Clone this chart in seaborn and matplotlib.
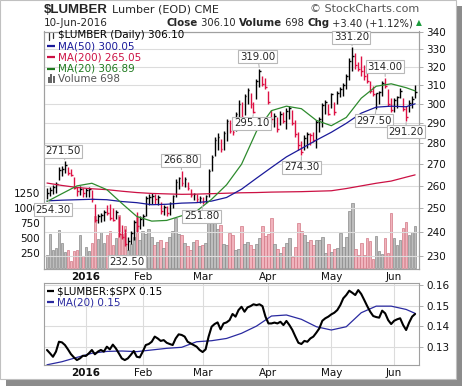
import numpy as np
import pandas as pd
import matplotlib
matplotlib.use("Agg")
import matplotlib.pyplot as plt
from matplotlib import font_manager
from matplotlib.patches import Rectangle
from matplotlib.ticker import FormatStrFormatter, NullLocator, FixedLocator
import seaborn as sns

# ---- data ----
start, end = "2015-12-14", "2016-06-10"
holidays = ["2015-12-25", "2016-01-01", "2016-01-18", "2016-02-15", "2016-03-25", "2016-05-30"]

lows = [254.3, 255.5, 256.5, 257, 262.5, 264.5, 266, 265, 264.5, 258.5, 255.5, 256, 255,
        255, 255, 253, 244, 243.5, 244, 244.5, 247, 245, 244.5, 245.5, 238, 237, 234, 232.5,
        235, 236.5, 240, 241, 242.5, 246.5, 251.5, 252, 252, 251.5, 247.5, 247, 246.5, 247,
        250, 255, 258.5, 260, 259.5, 258, 255, 253.5, 253, 252.5, 251.8, 252.5, 255, 267,
        274, 277, 276, 277, 281, 285, 284, 286, 291.5, 292, 294, 300, 298, 295.1, 302.5, 309,
        309.5, 308, 300, 290, 288, 285.5, 289, 290, 287, 292, 289, 283, 277, 274.3, 277, 278,
        279, 280.5, 278, 285.5, 288, 295, 294, 298, 294, 300, 303.5, 304, 308, 313, 318, 319,
        317.5, 315, 313, 311, 306, 304, 297.5, 300, 304, 308.5, 299, 296, 296, 298, 303,
        296.5, 291.2, 296, 298, 303]
highs = [259, 259.5, 260.5, 262, 268.5, 269, 271.5, 268.5, 268, 264, 259.5, 260, 259,
         259, 259.5, 258, 252, 247.5, 248, 249.5, 251.5, 252, 250, 249.5, 246.5, 243, 241, 238,
         240.5, 245, 248.5, 246.5, 247.5, 255.5, 256.5, 257, 256.5, 256, 253, 251.5, 251, 253,
         256, 263, 264, 266.8, 264, 262, 258.5, 257, 256.5, 255.5, 255, 256, 268, 274.5,
         283, 285, 282, 286, 292, 291.5, 289, 296, 302, 301, 305, 308.5, 306, 301, 313.5, 319,
         315, 314, 307, 297, 295.5, 293, 296.5, 296, 298, 299, 297, 291.5, 285.5, 281, 284, 285.5,
         285, 285.5, 291.5, 293, 300.5, 302, 300, 306, 301, 307, 309, 311, 316, 325, 331.2, 328,
         322.5, 326, 321, 318, 312, 309.5, 306, 307, 312, 314, 308, 303, 303, 304, 308.5,
         303, 299, 302, 304, 310]
closes = [257, 258, 259.5, 261, 267.5, 268, 269.5, 266, 265, 259, 257.5, 258.5, 257,
          258, 258.5, 254, 245, 246.5, 247, 248.5, 248, 246, 245, 248.5, 239, 238, 235, 236,
          239.5, 244, 242.5, 245.5, 246.5, 254.5, 255, 255.5, 254, 255, 249, 250.5, 248, 252.5,
          255.5, 262, 263.5, 261.5, 263, 259, 256, 256.5, 254, 254.5, 253, 255.5, 267, 273.5,
          281.5, 283, 277.5, 285, 291, 286, 285.5, 295, 300, 293, 304, 307.5, 300, 296, 312.5, 317.5,
          310.5, 309, 301, 292, 293.5, 287, 294.5, 291, 296.5, 298, 290, 284.5, 279, 276, 282.5, 284.5,
          284, 281.5, 290.5, 292, 299.5, 301, 295, 305, 296, 306, 308, 310, 315, 323.5, 326, 321,
          319, 318, 315, 312, 307, 305, 305.5, 306.5, 311, 309.5, 300, 297, 302, 303.5, 307,
          297.5, 293, 300.5, 302.7, 306.1]
volume = [220, 560, 300, 330, 630, 410, 260, 300, 110, 280, 300, 540, 200,
          340, 280, 420, 870, 480, 600, 420, 540, 620, 380, 500, 880, 560, 700, 300, 400, 520,
          850, 460, 620,
          560, 640, 520, 380, 430, 470, 330, 430, 520, 610, 830, 560, 540, 420, 360, 300, 430,
          470, 360, 380,
          420, 760, 900, 830, 650, 720, 400, 380, 580, 545, 300, 310, 695, 395, 430, 380, 320,
          395, 495, 690, 528,
          560, 828, 395, 310, 250, 350, 420, 490, 183, 350, 745, 617, 545, 433, 470, 380, 460,
          470, 510, 250, 395,
          265, 320, 330, 578, 355, 510, 950, 1083, 320, 212, 420, 212, 495, 440, 145, 528, 280,
          225, 495, 250, 910,
          495, 380, 460, 660, 767, 545, 600, 698]

# moving averages, sampled every 5 trading days (plus the last day)
ma_days = [0, 5, 10, 15, 20, 25, 30, 35, 40, 45, 50, 55, 60, 65, 70, 75, 80, 85, 90, 95,
           100, 105, 110, 115, 120, 123]
ma50 = [253.3, 253.6, 253.8, 254, 253.8, 253, 252.5, 251.6, 251.8, 252.3, 252.5, 253.2,
        254.8, 258.5, 263.5, 268.5, 273.5, 277.5, 281.6, 285.5, 290, 295.2, 298.3, 298.8,
        298.5, 300.05]
ma200 = [261.3, 260.2, 259.3, 258.7, 258.3, 257.6, 257, 256.6, 256.4, 256.2, 256.3, 256.5,
         256.7, 256.9, 257, 257.2, 257.3, 257.4, 257.6, 257.8, 258.8, 260, 261.2, 262.2, 264,
         265.05]
ma20 = [253, 256.5, 260, 261.2, 258.3, 252.2, 246.5, 244.5, 244.8, 246.8, 248.8, 254,
        260.5, 270, 286, 296.5, 298.8, 297.5, 291.5, 288.8, 293, 303, 309.4, 310.7, 308.6,
        306.89]

ratio = [0.1284, 0.1268, 0.1251, 0.1276, 0.1324, 0.1321, 0.1308, 0.1287, 0.1264, 0.1248,
         0.1235, 0.1243, 0.1256, 0.1255, 0.1268, 0.1284, 0.1263, 0.1276, 0.1284, 0.1276,
         0.1300, 0.1287, 0.1310, 0.1292, 0.1268, 0.1243, 0.1235, 0.1243, 0.1260, 0.1279,
         0.1251, 0.1248, 0.1276, 0.1308, 0.1313, 0.1324, 0.1349, 0.1340, 0.1328, 0.1332,
         0.1319, 0.1313, 0.1308, 0.1340, 0.1360, 0.1357, 0.1349, 0.1324, 0.1316, 0.1308,
         0.1300, 0.1284, 0.1274, 0.1287, 0.1349, 0.1397, 0.1410, 0.1418, 0.1384, 0.1413,
         0.1418, 0.1429, 0.1459, 0.1446, 0.1478, 0.1494, 0.1470, 0.1491, 0.1497, 0.1506,
         0.1502, 0.1506, 0.1497, 0.1446, 0.1413, 0.1413, 0.1417, 0.1413, 0.1421, 0.1405,
         0.1425, 0.1405, 0.1381, 0.1349, 0.1319, 0.1313, 0.1328, 0.1324, 0.1340, 0.1349,
         0.1368, 0.1389, 0.1426, 0.1438, 0.1446, 0.1457, 0.1465, 0.1478, 0.1502, 0.1535,
         0.1551, 0.1572, 0.1562, 0.1551, 0.1575, 0.1556, 0.1527, 0.1497, 0.1470, 0.1449,
         0.1444, 0.1441, 0.1475, 0.1462, 0.1429, 0.1410, 0.1426, 0.1433, 0.1438, 0.1405,
         0.1381, 0.1417, 0.1446, 0.1459]
ratio_ma = [0.1212, 0.1227, 0.1248, 0.1268, 0.1277, 0.1279, 0.1276, 0.1284, 0.1292, 0.1297,
            0.1324, 0.1329, 0.1340, 0.1365, 0.1400, 0.1449, 0.1454, 0.1433, 0.1397, 0.1381,
            0.1397, 0.1465, 0.1497, 0.1497, 0.1481, 0.1462]

# labelled highs and lows
peak_days = [6, 45, 71, 102, 113]
peak_vals = [271.5, 266.8, 319.0, 331.2, 314.0]
trough_days = [0, 27, 52, 69, 85, 110, 120]
trough_vals = [254.3, 232.5, 251.8, 295.1, 274.3, 297.5, 291.2]

price_ticks = [230, 240, 250, 260, 270, 280, 290, 300, 310, 320, 330, 340]
vol_ticks = [250, 500, 750, 1000, 1250]
ratio_ticks = [0.13, 0.14, 0.15, 0.16]
month_labels = ["2016", "Feb", "Mar", "Apr", "May", "Jun"]

# ---- setup ----
days = pd.bdate_range(start, end)
days = days[~days.isin(pd.to_datetime(holidays))]
x = np.arange(len(closes))
months = pd.Series(days.month)
month_pos = list(np.where(months.ne(months.shift()))[0][1:])

df = pd.DataFrame({"day": x, "low": lows, "high": highs, "close": closes, "volume": volume,
                   "ratio": ratio})
df["up"] = df["close"].diff().fillna(0) >= 0
ma = pd.DataFrame({"day": ma_days, "ma50": ma50, "ma200": ma200, "ma20": ma20,
                   "rma": ratio_ma})

sns.set_style("white")
plt.rcParams["font.family"] = ["DejaVu Sans"]

installed = {f.name for f in font_manager.fontManager.ttflist}
title_font = "Liberation Sans Narrow" if "Liberation Sans Narrow" in installed else "Liberation Sans"
title_size = 12 if title_font == "Liberation Sans Narrow" else 9.5

W, H = 464, 387
fig = plt.figure(figsize=(W / 100, H / 100), dpi=100)

# frame with shadow
fig.patches.append(Rectangle((6 / W, 1 - 386 / H), 456 / W, 380 / H, transform=fig.transFigure,
                             fc="#8c8c8c", ec="none", zorder=-3))
fig.patches.append(Rectangle((0, 1 - 379 / H), 456 / W, 379 / H, transform=fig.transFigure,
                             fc="white", ec="#c0c0c0", lw=0.8, zorder=-2))

RED = "#dd1144"
GRID = "#dcdcdc"
SPINE = "#a0a0a0"

L, R = 44 / W, 419 / W
ax_vol = fig.add_axes([L, 1 - 269 / H, R - L, (269 - 31.5) / H])
ax = ax_vol.twinx()
ax2 = fig.add_axes([L, 1 - 365 / H, R - L, (365 - 283.3) / H])

# volume
fills = np.where(df["up"], "#bdbdbd", "#f1b3bd")
edges = np.where(df["up"], "#8a8a8a", "#d27885")
ax_vol.bar(df["day"], df["volume"], width=0.85, color=fills, edgecolor=edges, lw=0.5)
ax_vol.set_ylim(-20, 3940)
ax_vol.set_yticks(vol_ticks)
ax_vol.tick_params(axis="y", labelsize=7.5, length=0, pad=3, colors="#111111")

# price bars
cols = np.where(df["up"], "black", RED)
ax.vlines(df["day"], df["low"], df["high"], colors=cols, lw=1.0)
ax.hlines(df["close"], df["day"], df["day"] + 0.6, colors=cols, lw=1.0)

sns.lineplot(data=ma, x="day", y="ma200", ax=ax, color="#cc1144", lw=0.9)
sns.lineplot(data=ma, x="day", y="ma50", ax=ax, color="#1a1a9a", lw=0.9)
sns.lineplot(data=ma, x="day", y="ma20", ax=ax, color="#2e8b2e", lw=0.9)

ax.set_yscale("log")
ax.set_ylim(224.9, 340.4)
ax.yaxis.set_major_locator(FixedLocator(price_ticks))
ax.yaxis.set_minor_locator(NullLocator())
ax.yaxis.set_major_formatter(FormatStrFormatter("%d"))
ax.tick_params(axis="y", labelsize=7.5, length=3, width=0.6, color=SPINE, pad=2,
               labelcolor="#111111")
ax.set_ylabel("")
ax.grid(True, axis="both", color=GRID, lw=0.8)

for a in (ax_vol, ax):
    a.set_xlim(-1, 124.3)
    a.set_xlabel("")
    for s in a.spines.values():
        s.set_color(SPINE)
        s.set_linewidth(0.8)
ax_vol.set_xticks(month_pos, month_labels)
ax_vol.xaxis.set_minor_locator(FixedLocator(x))
ax_vol.tick_params(axis="x", which="major", labelsize=7.5, length=0, pad=2, colors="#111111")
ax_vol.tick_params(axis="x", which="minor", length=2, width=0.5, color="#b0b0b0")
ax_vol.get_xticklabels()[0].set_fontweight("bold")
ax.set_xticks(month_pos)

# high / low callouts
box = dict(boxstyle="square,pad=0.15", fc="white", ec="#b8b8b8", lw=0.8)
arrow = dict(arrowstyle="-", color="#b8b8b8", lw=0.8, shrinkA=0, shrinkB=1)
peak_off = [(-2, 10), (-1, 11), (-2, 12), (-1, 10), (0, 11)]
for d, v, off in zip(peak_days, peak_vals, peak_off):
    ax.annotate(f"{v:.2f}", xy=(d, v), xytext=off, textcoords="offset pixels", ha="center",
                va="center", fontsize=7.3, bbox=box, arrowprops=arrow, zorder=6)
trough_off = [(6, -11), (-1, -12), (-1, -12), (-2, -10), (0, -12), (-2, -12), (0, -11)]
for d, v, off in zip(trough_days, trough_vals, trough_off):
    ax.annotate(f"{v:.2f}", xy=(d, v), xytext=off, textcoords="offset pixels", ha="center",
                va="center", fontsize=7.3, bbox=box, arrowprops=arrow, zorder=6,
                annotation_clip=False)

# legend in main panel
leg = [("$LUMBER (Daily) 306.10", "black", 0.984),
       ("MA(50) 300.05", "#1a1a9a", 0.937),
       ("MA(200) 265.05", "#cc1144", 0.892),
       ("MA(20) 306.89", "#1f7a1f", 0.844),
       ("Volume 698", "#555555", 0.799)]
for k, (s, c, yy) in enumerate(leg):
    ax.text(0.037, yy, s, transform=ax.transAxes, color=c, fontsize=7.5, va="center",
            ha="left", parse_math=False, zorder=7)
    if 1 <= k <= 3:
        ax.plot([0.008, 0.030], [yy, yy], transform=ax.transAxes, color=c, lw=1.6,
                solid_capstyle="butt")
# small bar glyphs
ax.plot([0.013, 0.013], [0.966, 0.997], transform=ax.transAxes, color="#333", lw=0.9)
ax.plot([0.025, 0.025], [0.972, 0.995], transform=ax.transAxes, color="#333", lw=0.9)
for gx, gh in zip([0.010, 0.017, 0.024], [0.022, 0.034, 0.028]):
    ax.add_patch(Rectangle((gx, 0.785), 0.005, gh, transform=ax.transAxes, fc="#666", ec="none"))

# ratio panel
sns.lineplot(data=ma, x="day", y="rma", ax=ax2, color="#2a2aa0", lw=0.9)
sns.lineplot(data=df, x="day", y="ratio", ax=ax2, color="black", lw=1.5)
ax2.set_xlim(-1, 124.3)
ax2.set_ylim(0.1211, 0.1608)
ax2.yaxis.tick_right()
ax2.set_yticks(ratio_ticks)
ax2.yaxis.set_major_formatter(FormatStrFormatter("%.2f"))
ax2.tick_params(axis="y", labelsize=7.5, length=3, width=0.6, color=SPINE, pad=2,
                labelcolor="#111111")
ax2.set_xticks(month_pos, month_labels)
ax2.tick_params(axis="x", labelsize=7.5, length=0, pad=2, colors="#111111")
ax2.get_xticklabels()[0].set_fontweight("bold")
ax2.grid(True, color=GRID, lw=0.8)
ax2.set_xlabel("")
ax2.set_ylabel("")
for s in ax2.spines.values():
    s.set_color(SPINE)
    s.set_linewidth(0.8)
for s, c, yy in [("$LUMBER:$SPX 0.15", "black", 0.905), ("MA(20) 0.15", "#2a2aa0", 0.77)]:
    ax2.text(0.035, yy, s, transform=ax2.transAxes, color=c, fontsize=7.5, va="center",
             parse_math=False)
    ax2.plot([0.008, 0.028], [yy, yy], transform=ax2.transAxes, color=c, lw=1.6,
             solid_capstyle="butt")

# header
renderer = fig.canvas.get_renderer()
title = fig.text(44 / W, 1 - 10 / H, "$LUMBER", fontsize=title_size, fontweight="bold",
                 va="center", family=title_font, parse_math=False)
tx = max(107 / W, 44 / W + title.get_window_extent(renderer=renderer).width / fig.bbox.width
         + 4 / W)
fig.text(tx, 1 - 10 / H, "Lumber (EOD) CME", fontsize=8, va="center")
fig.text(419 / W, 1 - 9.5 / H, "\u00a9 StockCharts.com", fontsize=8, va="center", ha="right",
         color="#555555")
fig.text(44 / W, 1 - 23 / H, "10-Jun-2016", fontsize=7.5, va="center")

pieces = [("Close", dict(fontweight="bold", fontsize=7.4)),
          (" 306.10 ", dict(fontsize=7.1)),
          ("Volume", dict(fontweight="bold", fontsize=7.4)),
          (" 698 ", dict(fontsize=7.1)),
          ("Chg", dict(fontweight="bold", fontsize=7.4)),
          (" +3.40 (+1.12%) ", dict(fontsize=7.1)),
          ("\u25b2", dict(fontsize=5.5, color="#1a9a3a"))]
xpos = 167 / W
for s, kw in pieces:
    t = fig.text(xpos, 1 - 23 / H, s, va="center", **kw)
    xpos += t.get_window_extent(renderer=renderer).width / fig.bbox.width

fig.savefig("out.png", dpi=100)
